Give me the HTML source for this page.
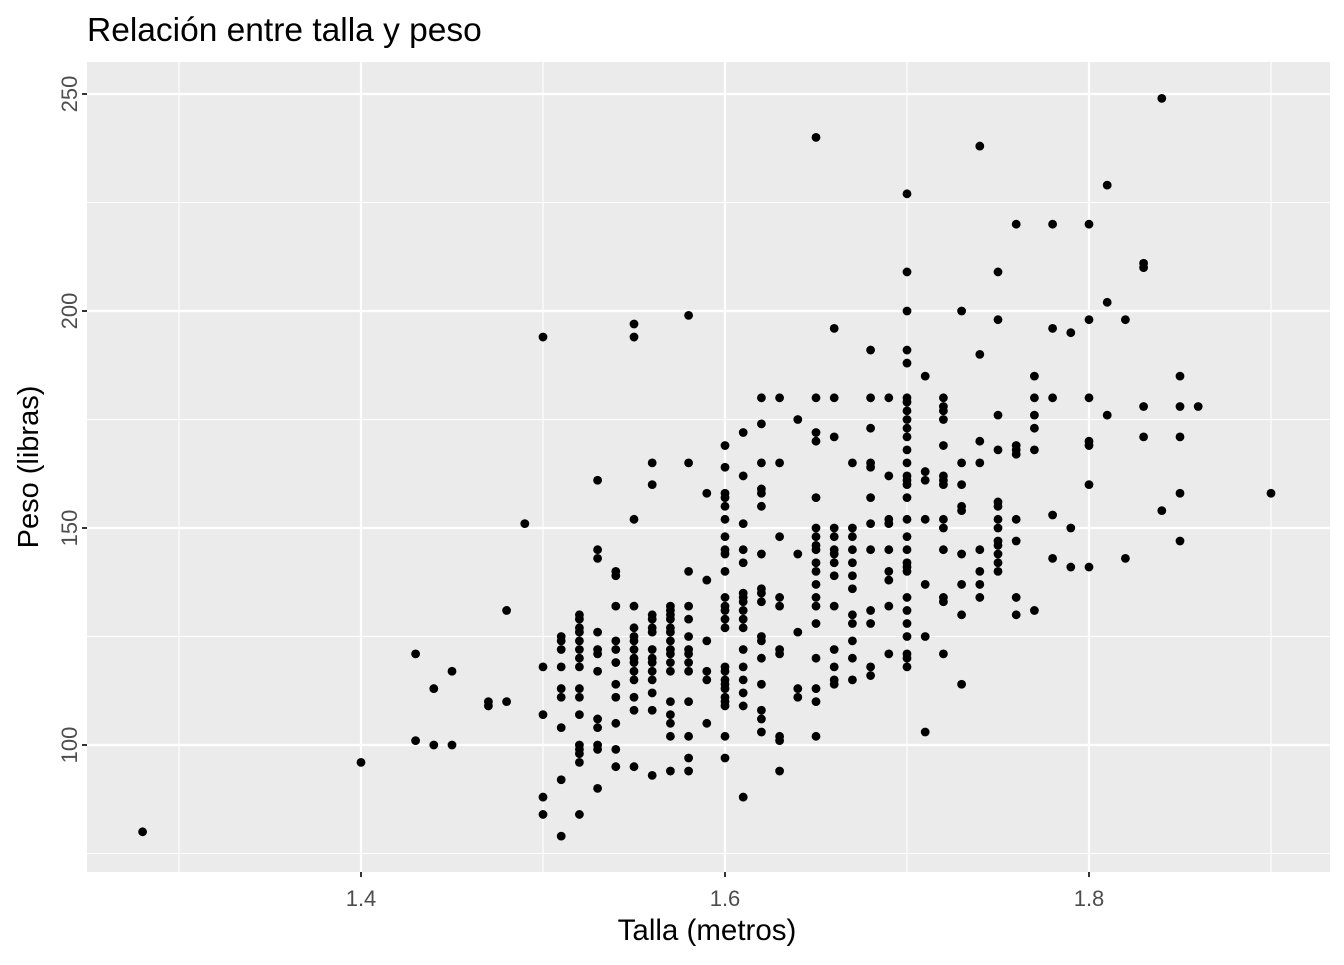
<!DOCTYPE html>
<html><head><meta charset="utf-8"><style>
body{margin:0;background:#fff;}
svg text{font-family:"Liberation Sans",sans-serif;}
</style></head><body>
<svg id="chart" width="1344" height="960">
<rect x="0" y="0" width="1344" height="960" fill="#fff"/>
<text x="87" y="41" font-size="33.5" fill="#000">Relación entre talla y peso</text>
<rect x="87" y="62" width="1243" height="810" fill="#ebebeb"/>
<g id="grid"></g><g id="ticks"></g><g id="points"></g>
<text x="707" y="940" font-size="29.5" text-anchor="middle" fill="#000">Talla (metros)</text>
<text transform="translate(38,467) rotate(-90)" font-size="29" text-anchor="middle" fill="#000">Peso (libras)</text>
</svg>
<script>
const heights=[1.28,1.40,1.43,1.43,1.44,1.44,1.45,1.45,1.47,1.47,1.48,1.48,1.49];
const weights=[80,96,121,101,113,100,117,100,110,109,131,110,151];
const cols={
"1.50":[194,118,107,88,84],
"1.51":[125,124,122,118,113,111,104,92,79],
"1.52":[130,129,127,126,124,122,120,118,113,111,107,100,99,98,96,84],
"1.53":[161,145,143,126,122,121,117,106,104,100,99,90],
"1.54":[140,139,132,124,122,119,114,111,105,99,95],
"1.55":[194,197,152,132,127,125,124,122,120,119,117,115,111,108,95],
"1.56":[165,160,130,129,127,126,122,120,119,117,115,112,108,93],
"1.57":[132,131,130,129,127,126,124,122,121,119,117,110,107,105,102,94],
"1.58":[199,165,140,132,129,125,122,121,119,117,110,102,97,94],
"1.59":[158,138,124,117,115,105],
"1.60":[169,164,158,157,155,152,148,145,144,140,134,132,131,129,127,118,117,115,114,113,111,110,109,102,97],
"1.61":[172,162,151,145,142,135,134,133,131,129,127,122,118,115,112,109,88],
"1.62":[180,174,165,159,158,155,144,136,135,133,125,124,120,114,108,106,103],
"1.63":[180,165,148,134,132,122,121,102,101,94],
"1.64":[175,144,126,113,111],
"1.65":[240,180,172,170,157,150,148,146,145,142,140,137,134,132,128,120,113,110,102],
"1.66":[196,180,171,150,148,145,144,142,139,132,122,118,115,114],
"1.67":[165,150,148,145,142,139,136,130,128,124,120,115],
"1.68":[191,180,173,165,164,157,151,145,131,128,118,116],
"1.69":[180,162,152,151,145,140,138,132,121],
"1.70":[227,209,200,191,188,180,179,177,175,173,171,168,165,162,161,160,157,152,148,145,142,141,140,134,131,128,125,121,120,118],
"1.71":[185,163,161,152,137,125,103],
"1.72":[180,178,177,175,169,162,161,160,152,150,145,134,133,121],
"1.73":[200,165,160,155,154,144,137,130,114],
"1.74":[238,190,170,165,145,140,137,134],
"1.75":[209,198,176,168,156,155,152,150,147,146,144,142,140],
"1.76":[220,169,168,167,152,147,134,130],
"1.77":[185,180,176,173,168,131],
"1.78":[220,196,180,153,143],
"1.79":[195,150,141],
"1.80":[220,198,180,170,169,160,141],
"1.81":[229,202,176],
"1.82":[198,143],
"1.83":[211,210,178,171],
"1.84":[249,154],
"1.85":[185,178,171,158,147],
"1.86":[178],
"1.90":[158]};
for(const k in cols){for(const w of cols[k]){heights.push(parseFloat(k));weights.push(w);}}
const xTicks=[1.4,1.6,1.8], xMinor=[1.3,1.5,1.7,1.9];
const yTicks=[100,150,200,250], yMinor=[75,125,175,225];
const X=v=>361+(v-1.4)*1820;
const Y=v=>745-(v-100)*4.34;
const NS="http://www.w3.org/2000/svg";
function mk(tag,attrs,parent){const e=document.createElementNS(NS,tag);for(const a in attrs)e.setAttribute(a,attrs[a]);document.getElementById(parent).appendChild(e);return e;}
for(const v of xMinor){const e=mk('line',{x1:X(v),x2:X(v),y1:62,y2:872,stroke:'#fff','stroke-width':1.1},'grid');

}
for(const v of yMinor){const e=mk('line',{x1:87,x2:1330,y1:Y(v),y2:Y(v),stroke:'#fff','stroke-width':1.1},'grid');

}
for(const v of xTicks){const e=mk('line',{x1:X(v),x2:X(v),y1:62,y2:872,stroke:'#fff','stroke-width':2.2},'grid');


const t=mk('line',{x1:X(v),x2:X(v),y1:872,y2:877,stroke:'#333','stroke-width':2},'ticks');


const l=mk('text',{x:X(v),y:906,'font-size':22,'text-anchor':'middle',fill:'#4d4d4d'},'ticks');l.textContent=v.toFixed(1);

}
for(const v of yTicks){const e=mk('line',{x1:87,x2:1330,y1:Y(v),y2:Y(v),stroke:'#fff','stroke-width':2.2},'grid');


const t=mk('line',{x1:82,x2:87,y1:Y(v),y2:Y(v),stroke:'#333','stroke-width':2},'ticks');


const l=mk('text',{transform:`translate(77,${Y(v)}) rotate(-90)`,'font-size':22,'text-anchor':'middle',fill:'#4d4d4d'},'ticks');l.textContent=v;

}
for(let i=0;i<heights.length;i++){const c=mk('circle',{cx:X(heights[i]),cy:Y(weights[i]),r:4.4,fill:'#000'},'points');

}
</script>
</body></html>
